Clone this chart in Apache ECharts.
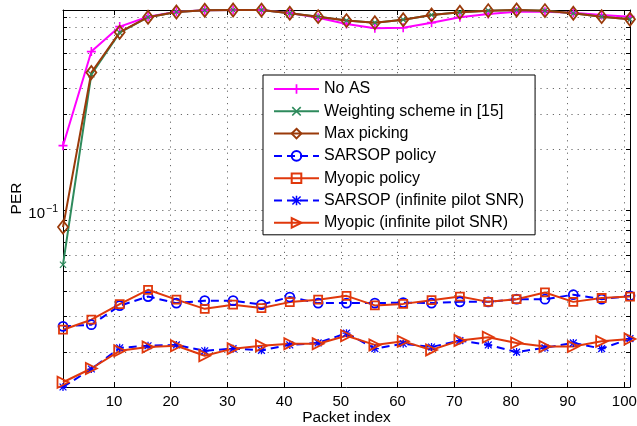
<!DOCTYPE html>
<html>
<head>
<meta charset="utf-8">
<script src="https://cdn.jsdelivr.net/npm/echarts@6/dist/echarts.min.js"></script>
<style>
  html, body { margin: 0; padding: 0; background: #fff; }
  #chart { width: 637px; height: 426px; }
</style>
</head>
<body>
<div id="chart"></div>
<script>
// Packet indices at which PER was evaluated
const packetIndex = [1, 6, 11, 16, 21, 26, 31, 36, 41, 46, 51, 56, 61, 66, 71, 76, 81, 86, 91, 96, 101];

// PER per scheme
const noAS        = [0.209, 0.609, 0.809, 0.905, 0.957, 0.975, 0.977, 0.976, 0.945, 0.895, 0.834, 0.794, 0.798, 0.846, 0.900, 0.934, 0.959, 0.959, 0.948, 0.924, 0.906];
const weighting   = [0.054, 0.470, 0.755, 0.900, 0.955, 0.975, 0.977, 0.976, 0.941, 0.906, 0.866, 0.846, 0.875, 0.924, 0.953, 0.970, 0.977, 0.970, 0.941, 0.906, 0.879];
const maxPicking  = [0.0828, 0.480, 0.759, 0.900, 0.955, 0.975, 0.977, 0.976, 0.941, 0.906, 0.866, 0.846, 0.875, 0.924, 0.953, 0.970, 0.977, 0.970, 0.941, 0.906, 0.879];
const sarsop      = [0.0268, 0.0273, 0.0339, 0.0376, 0.0349, 0.0359, 0.0359, 0.0343, 0.0374, 0.0349, 0.0349, 0.0349, 0.0351, 0.0349, 0.0354, 0.0354, 0.0365, 0.0365, 0.0384, 0.0365, 0.0379];
const myopic      = [0.0258, 0.0289, 0.0345, 0.0406, 0.0363, 0.0327, 0.0343, 0.0330, 0.0353, 0.0363, 0.0379, 0.0340, 0.0346, 0.0361, 0.0376, 0.0354, 0.0365, 0.0394, 0.0354, 0.0370, 0.0376];
const sarsopInf   = [0.01345, 0.0165, 0.0210, 0.0215, 0.0217, 0.0203, 0.0208, 0.0204, 0.0217, 0.0222, 0.0248, 0.0208, 0.0220, 0.0212, 0.0228, 0.0217, 0.0200, 0.0210, 0.0222, 0.0208, 0.0233];
const myopicInf   = [0.0142, 0.0166, 0.0203, 0.0212, 0.0215, 0.0192, 0.0208, 0.0215, 0.0220, 0.0220, 0.0241, 0.0217, 0.0226, 0.0205, 0.0228, 0.0237, 0.0222, 0.0213, 0.0213, 0.0226, 0.0232];

// Series names
const seriesNames = [
  'No AS',
  'Weighting scheme in [15]',
  'Max picking',
  'SARSOP policy',
  'Myopic policy',
  'SARSOP (infinite pilot SNR)',
  'Myopic (infinite pilot SNR)'
];

// Axis ticks
const xTicks = [10, 20, 30, 40, 50, 60, 70, 80, 90, 100];
const yMinorTicks = [0.02, 0.03, 0.04, 0.05, 0.06, 0.07, 0.08, 0.09, 0.1, 0.2, 0.3, 0.4, 0.5, 0.6, 0.7, 0.8, 0.9];
const yLabelTicks = [0.1];

const xMin = packetIndex[0];
const xMax = packetIndex[packetIndex.length - 1];
const allValues = [].concat(noAS, weighting, maxPicking, sarsop, myopic, sarsopInf, myopicInf);
const yMin = Math.min.apply(null, allValues);
const yMax = Math.max.apply(null, allValues);

const FONT = 'Liberation Sans, Arial, Helvetica, sans-serif';
const MAGENTA = '#ff00ff';
const GREEN = '#2e8a5c';
const BROWN = '#9a3a0a';
const BLUE = '#0000ff';
const RED = '#e0380c';
const HOLLOW = 'rgba(255,255,255,0)';

const PLUS = 'path://M4.1,0H5.9V4.1H10V5.9H5.9V10H4.1V5.9H0V4.1H4.1Z';
const CROSS = 'path://M1.2,0L5,3.8L8.8,0L10,1.2L6.2,5L10,8.8L8.8,10L5,6.2L1.2,10L0,8.8L3.8,5L0,1.2Z';
const ASTERISK = 'path://M4.2,0H5.8V10H4.2Z M0,4.2H10V5.8H0Z M1.3,0.2L9.8,8.7L8.7,9.8L0.2,1.3Z M8.7,0.2L9.8,1.3L1.3,9.8L0.2,8.7Z';

function pairs(ys) {
  return packetIndex.map(function (x, i) { return [x, ys[i]]; });
}

function lineSeries(name, ys, color, dashed, symbol, size, hollow, extra) {
  const s = {
    name: name,
    type: 'line',
    data: pairs(ys),
    symbol: symbol,
    symbolSize: size,
    showAllSymbol: true,
    lineStyle: { color: color, width: 2, type: dashed ? [8, 5] : 'solid' },
    itemStyle: hollow
      ? { color: HOLLOW, borderColor: color, borderWidth: 1.8 }
      : { color: color, borderWidth: 0 },
    emphasis: { disabled: true },
    z: 3
  };
  return Object.assign(s, extra || {});
}

const gridLine = { show: true, lineStyle: { color: '#6a6a6a', width: 1, type: [1.2, 5] } };

const chart = echarts.init(document.getElementById('chart'), null, { renderer: 'canvas' });

chart.setOption({
  backgroundColor: '#fff',
  animation: false,
  textStyle: { fontFamily: FONT },
  grid: { left: 63, right: 7, top: 10, bottom: 39, containLabel: false, outerBoundsMode: 'none' },
  legend: {
    orient: 'vertical',
    left: 263,
    top: 75,
    padding: [6, 11, 4, 10],
    itemWidth: 45,
    itemHeight: 12,
    itemGap: 6.3,
    borderColor: '#000',
    borderWidth: 1,
    backgroundColor: '#fff',
    textStyle: { fontFamily: FONT, fontSize: 16, color: '#000' },
    data: seriesNames
  },
  xAxis: [
    {
      type: 'value',
      min: xMin,
      max: xMax,
      name: 'Packet index',
      nameLocation: 'middle',
      nameGap: 23,
      nameMoveOverlap: false,
      nameTextStyle: { fontFamily: FONT, fontSize: 15.5, color: '#000' },
      axisLine: { show: true, onZero: false, lineStyle: { color: '#000', width: 1 } },
      axisTick: { show: true, inside: true, length: 5, customValues: xTicks, lineStyle: { color: '#000' } },
      axisLabel: { show: true, customValues: xTicks, margin: 7, fontFamily: FONT, fontSize: 15, color: '#000' },
      splitLine: gridLine
    },
    {
      type: 'value',
      position: 'top',
      min: xMin,
      max: xMax,
      axisLine: { show: true, onZero: false, lineStyle: { color: '#000', width: 1 } },
      axisTick: { show: true, inside: true, length: 5, customValues: xTicks, lineStyle: { color: '#000' } },
      axisLabel: { show: false },
      splitLine: { show: false }
    }
  ],
  yAxis: [
    {
      type: 'log',
      logBase: 10,
      min: yMin,
      max: yMax,
      name: 'PER',
      nameLocation: 'middle',
      nameGap: 38,
      nameMoveOverlap: false,
      nameTextStyle: { fontFamily: FONT, fontSize: 15.5, color: '#000' },
      axisLine: { show: true, onZero: false, lineStyle: { color: '#000', width: 1 } },
      axisTick: { show: true, inside: true, length: 4, customValues: yMinorTicks, lineStyle: { color: '#000' } },
      axisLabel: {
        show: true,
        customValues: yLabelTicks,
        margin: 5,
        padding: [10, 0, 0, 0],
        formatter: function (v) {
          const p = Math.round(Math.log10(v));
          return '{b|10}{s|' + (p < 0 ? '\u2212' + (-p) : p) + '}';
        },
        rich: {
          b: { fontFamily: FONT, fontSize: 15, color: '#000', lineHeight: 24, padding: [3, 0, 0, 0], verticalAlign: 'top' },
          s: { fontFamily: FONT, fontSize: 10.5, color: '#000', lineHeight: 10, padding: [0, 0, 17, 1], verticalAlign: 'top' }
        }
      },
      splitLine: gridLine
    },
    {
      type: 'log',
      logBase: 10,
      position: 'right',
      min: yMin,
      max: yMax,
      axisLine: { show: true, onZero: false, lineStyle: { color: '#000', width: 1 } },
      axisTick: { show: true, inside: true, length: 4, customValues: yMinorTicks, lineStyle: { color: '#000' } },
      axisLabel: { show: false },
      splitLine: { show: false }
    }
  ],
  series: [
    lineSeries(seriesNames[0], noAS, MAGENTA, false, PLUS, 9, false),
    lineSeries(seriesNames[1], weighting, GREEN, false, CROSS, 7, false),
    lineSeries(seriesNames[2], maxPicking, BROWN, false, 'diamond', [10, 13], true),
    lineSeries(seriesNames[3], sarsop, BLUE, true, 'circle', 9, true),
    lineSeries(seriesNames[4], myopic, RED, false, 'rect', 8, true),
    lineSeries(seriesNames[5], sarsopInf, BLUE, true, ASTERISK, 8, false),
    lineSeries(seriesNames[6], myopicInf, RED, false, 'triangle', 11, true, { symbolRotate: -90 })
  ]
});
</script>
</body>
</html>
